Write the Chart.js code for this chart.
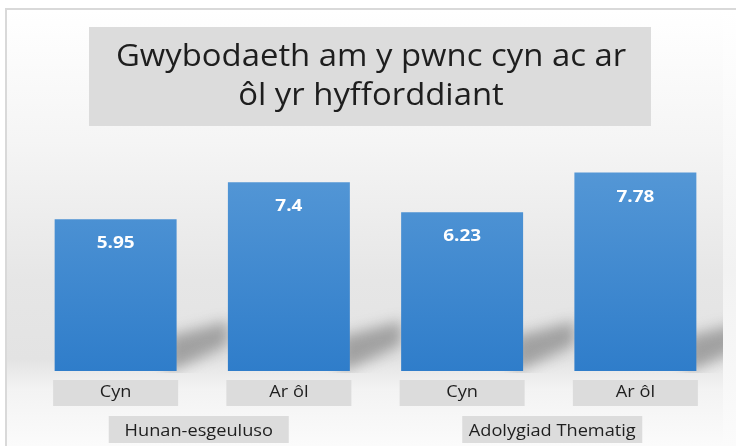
<!DOCTYPE html>
<html>
<head>
<meta charset="utf-8">
<script src="https://cdn.jsdelivr.net/npm/chart.js@4.4.1/dist/chart.umd.min.js"></script>
<style>
  html, body { margin: 0; padding: 0; background: #ffffff; }
  #wrap { width: 736px; height: 446px; position: relative; }
</style>
</head>
<body>
<div id="wrap"><canvas id="c" width="736" height="446"></canvas></div>
<script>
const titleLines = ['Gwybodaeth am y pwnc cyn ac ar', 'ôl yr hyfforddiant'];
const categories = ['Cyn', 'Ar ôl', 'Cyn', 'Ar ôl'];
const groups = ['Hunan-esgeuluso', 'Adolygiad Thematig'];
const values = [5.95, 7.4, 6.23, 7.78];

const FONT = '"Open Sans", "Noto Sans", sans-serif';
const GROUP_BOX_SHIFT = [-3.5, 3.5];

function drawText(ctx, text, x, y, font, color, sx) {
  ctx.save();
  ctx.font = font;
  ctx.fillStyle = color;
  ctx.textAlign = 'center';
  ctx.textBaseline = 'alphabetic';
  ctx.translate(x, y);
  ctx.scale(sx, 1);
  ctx.fillText(text, 0, 0);
  ctx.restore();
}

const decor = {
  id: 'decor',
  beforeDraw(chart) {
    const ctx = chart.ctx;
    const W = chart.width, H = chart.height;
    ctx.save();
    ctx.fillStyle = '#ffffff';
    ctx.fillRect(0, 0, W, H);
    const g = ctx.createLinearGradient(0, 10, 0, H);
    g.addColorStop(0, '#ffffff');
    g.addColorStop(0.3, '#f5f5f5');
    g.addColorStop(0.62, '#e6e6e6');
    g.addColorStop(0.8, '#e3e3e3');
    g.addColorStop(0.87, '#f3f3f3');
    g.addColorStop(1, '#fbfbfb');
    ctx.fillStyle = g;
    ctx.fillRect(7, 10, W - 7, H - 10);
    const g2 = ctx.createLinearGradient(0, 10, 0, H);
    g2.addColorStop(0, '#ffffff');
    g2.addColorStop(0.6, '#f2f2f2');
    g2.addColorStop(1, '#fbfbfb');
    ctx.fillStyle = g2;
    ctx.fillRect(723, 10, W - 723, H - 10);
    ctx.fillStyle = '#d9d9d9';
    ctx.fillRect(5, 8, W - 5, 2);
    ctx.fillRect(5, 8, 2, H - 8);
    ctx.fillStyle = '#dcdcdc';
    ctx.fillRect(89, 27, 562, 99);
    ctx.restore();
    drawText(ctx, titleLines[0], 371, 66, '31px ' + FONT, '#1e1e1e', 1.06);
    drawText(ctx, titleLines[1], 371, 105, '31px ' + FONT, '#1e1e1e', 1.06);
  },
  beforeDatasetsDraw(chart) {
    const ctx = chart.ctx;
    const meta = chart.getDatasetMeta(0);
    const area = chart.chartArea;
    ctx.save();
    ctx.beginPath();
    ctx.rect(area.left, area.top, area.right - area.left + 1, area.bottom - area.top + 2);
    ctx.clip();
    ctx.filter = 'blur(7px)';
    ctx.fillStyle = 'rgba(80,80,80,0.45)';
    meta.data.forEach(bar => {
      const r = bar.x + bar.width / 2;
      const b = bar.base;
      ctx.beginPath();
      ctx.moveTo(r - 10, b + 2);
      ctx.lineTo(r + 52, b - 26);
      ctx.lineTo(r + 52, b - 50);
      ctx.lineTo(r - 10, b - 34);
      ctx.closePath();
      ctx.fill();
    });
    ctx.restore();
  },
  afterDatasetsDraw(chart) {
    const ctx = chart.ctx;
    const meta = chart.getDatasetMeta(0);
    meta.data.forEach((bar, i) => {
      drawText(ctx, String(values[i]), bar.x, bar.y + 29, 'bold 16.5px ' + FONT, '#ffffff', 1.15);
    });
    meta.data.forEach((bar, i) => {
      const w = bar.width + 3;
      ctx.fillStyle = '#dcdcdc';
      ctx.fillRect(bar.x - w / 2, 380, w, 26);
      drawText(ctx, categories[i], bar.x, 397, '17px ' + FONT, '#1e1e1e', 1.07);
    });
    groups.forEach((gname, gi) => {
      const cx = (meta.data[gi * 2].x + meta.data[gi * 2 + 1].x) / 2 + GROUP_BOX_SHIFT[gi];
      const w = 180;
      ctx.fillStyle = '#dcdcdc';
      ctx.fillRect(cx - w / 2, 416, w, 27);
      drawText(ctx, gname, cx, 435.5, '17px ' + FONT, '#1e1e1e', 1.07);
    });
  }
};

const chart = new Chart(document.getElementById('c'), {
  type: 'bar',
  data: {
    labels: categories,
    datasets: [{
      data: values,
      backgroundColor(context) {
        const c = context.chart;
        const a = c.chartArea;
        if (!a) return '#4a8fd3';
        const gr = c.ctx.createLinearGradient(0, a.top, 0, a.bottom);
        gr.addColorStop(0, '#5e9ed9');
        gr.addColorStop(1, '#2f7dca');
        return gr;
      },
      borderWidth: 0,
      barPercentage: 0.704,
      categoryPercentage: 1
    }]
  },
  options: {
    responsive: false,
    animation: false,
    events: [],
    layout: { padding: { left: 29, right: 14, top: 116, bottom: 75 } },
    plugins: { legend: { display: false }, tooltip: { enabled: false }, title: { display: false } },
    scales: {
      x: { display: false },
      y: { display: false, min: 0, max: 10 }
    }
  },
  plugins: [decor]
});
</script>
</body>
</html>
